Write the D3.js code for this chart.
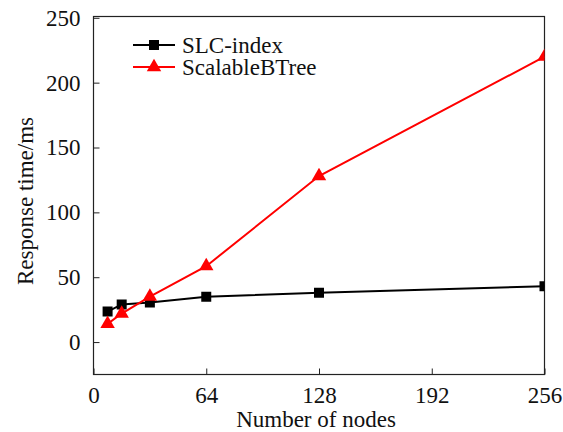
<!DOCTYPE html>
<html lang="en">
<head>
    <meta charset="UTF-8">
    <title>Response time</title>
    <script src="https://cdn.jsdelivr.net/npm/d3@7"></script>
    <style>
        body { margin: 0; background: #fff; }
        text { font-family: "Liberation Serif", "Times New Roman", serif; fill: #111; }
    </style>
</head>
<body>
<script type="text/javascript">
    var nodes = [8, 16, 32, 64, 128, 256];
    var slcIndex = [23.5, 29, 30.5, 35, 38, 43];
    var scalableBTree = [14, 22, 35, 58.5, 128, 220];
    var xTicks = [0, 64, 128, 192, 256];
    var yTicks = [0, 50, 100, 150, 200, 250];

    var width = 563;
    var height = 432;
    var m = {left: 93.5, right: 544.5, top: 16.5, bottom: 374.5};
    var fontSize = '23px';

    var svg = d3.select('body').append('svg')
            .attr('width', width)
            .attr('height', height);

    var x = d3.scaleLinear().domain([0, 256]).range([m.left, m.right]);
    var y = d3.scaleLinear().domain([-25, 251]).range([m.bottom, m.top]);

    svg.append('defs').append('clipPath').attr('id', 'plot')
            .append('rect')
            .attr('x', m.left).attr('y', m.top)
            .attr('width', m.right - m.left).attr('height', m.bottom - m.top);

    // inward ticks
    svg.append('g')
            .attr('transform', 'translate(0,' + m.bottom + ')')
            .call(d3.axisBottom(x).tickValues(xTicks).tickSizeInner(-6).tickSizeOuter(0).tickPadding(12))
            .call(function (g) {
                g.select('.domain').remove();
                g.selectAll('line').attr('stroke', '#222');
                g.selectAll('text').attr('font-size', fontSize).attr('dy', '0.71em');
            });
    svg.append('g')
            .attr('transform', 'translate(' + m.left + ',0)')
            .call(d3.axisLeft(y).tickValues(yTicks).tickSizeInner(-6).tickSizeOuter(0).tickPadding(13))
            .call(function (g) {
                g.select('.domain').remove();
                g.selectAll('line').attr('stroke', '#222');
                g.selectAll('text').attr('font-size', fontSize);
            });

    svg.append('rect')
            .attr('x', m.left).attr('y', m.top)
            .attr('width', m.right - m.left).attr('height', m.bottom - m.top)
            .attr('fill', 'none')
            .attr('stroke', '#222')
            .attr('stroke-width', 1.2);

    var series = [
        {name: 'SLC-index', values: slcIndex, color: '#000', shape: d3.symbolSquare, size: 100},
        {name: 'ScalableBTree', values: scalableBTree, color: '#f00', shape: d3.symbolTriangle, size: 90}
    ];

    var line = d3.line()
            .x(function (d) { return x(d[0]); })
            .y(function (d) { return y(d[1]); });

    var plot = svg.append('g').attr('clip-path', 'url(#plot)');

    series.forEach(function (s) {
        var pts = nodes.map(function (n, i) { return [n, s.values[i]]; });
        plot.append('path')
                .attr('d', line(pts))
                .attr('fill', 'none')
                .attr('stroke', s.color)
                .attr('stroke-width', 2);
        plot.selectAll(null)
                .data(pts)
                .enter()
                .append('path')
                .attr('d', d3.symbol().type(s.shape).size(s.size))
                .attr('transform', function (d) { return 'translate(' + x(d[0]) + ',' + y(d[1]) + ')'; })
                .attr('fill', s.color);
    });

    // legend
    var legend = svg.append('g');
    series.forEach(function (s, i) {
        var ly = 45 + i * 22;
        legend.append('line')
                .attr('x1', 133).attr('x2', 175)
                .attr('y1', ly).attr('y2', ly)
                .attr('stroke', s.color)
                .attr('stroke-width', 2);
        legend.append('path')
                .attr('d', d3.symbol().type(s.shape).size(s.size))
                .attr('transform', 'translate(154,' + ly + ')')
                .attr('fill', s.color);
        legend.append('text')
                .attr('x', 182).attr('y', ly)
                .attr('dy', '0.35em')
                .attr('font-size', fontSize)
                .text(s.name);
    });

    svg.append('text')
            .attr('x', (m.left + m.right) / 2 - 3)
            .attr('y', 427)
            .attr('text-anchor', 'middle')
            .attr('font-size', fontSize)
            .text('Number of nodes');

    svg.append('text')
            .attr('transform', 'translate(33,201) rotate(-90)')
            .attr('text-anchor', 'middle')
            .attr('font-size', fontSize)
            .text('Response time/ms');
</script>
</body>
</html>
